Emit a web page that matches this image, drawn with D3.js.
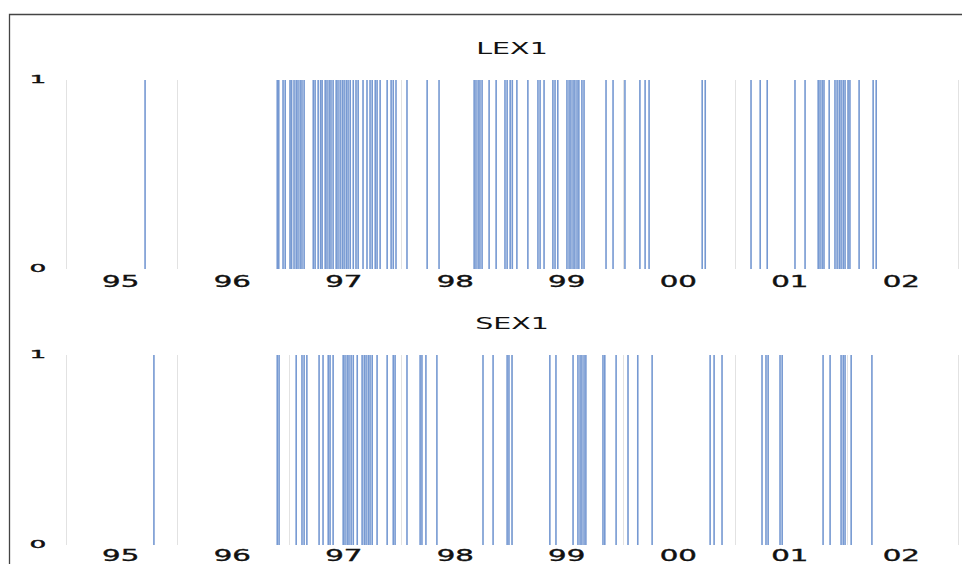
<!DOCTYPE html>
<html>
<head>
<meta charset="utf-8">
<script src="https://cdn.jsdelivr.net/npm/d3@7"></script>
<style>
  body { margin: 0; background: #fff; }
  text { font-family: "DejaVu Sans", sans-serif; fill: #111; }
  text.xtick, text.ytick { stroke: #111; stroke-width: 0.35px; }
</style>
</head>
<body>
<script>
//event dates, one bar per event (value 1)
var lexDates = [
  "1995-09-17",
  "1996-11-23", "1996-11-28", "1996-12-12", "1996-12-19",
  "1997-01-04", "1997-01-09", "1997-01-17", "1997-01-24", "1997-01-30", "1997-02-06",
  "1997-02-12", "1997-02-19", "1997-03-21", "1997-03-27", "1997-04-06", "1997-04-14",
  "1997-04-19", "1997-04-29", "1997-05-05", "1997-05-12", "1997-05-18", "1997-05-25",
  "1997-06-04", "1997-06-10", "1997-06-17", "1997-06-24", "1997-06-30", "1997-07-07",
  "1997-07-13", "1997-07-20", "1997-07-30", "1997-08-08", "1997-08-15", "1997-08-31",
  "1997-09-13", "1997-09-23", "1997-09-30", "1997-10-10", "1997-10-16", "1997-10-26",
  "1997-11-18", "1997-12-01", "1997-12-08", "1997-12-17",
  "1998-01-22", "1998-03-29", "1998-05-07", "1998-08-30", "1998-09-05", "1998-09-12",
  "1998-09-18", "1998-09-25", "1998-10-18", "1998-11-10", "1998-12-09", "1998-12-16",
  "1998-12-26",
  "1999-01-02", "1999-01-17", "1999-02-22", "1999-03-27", "1999-04-03", "1999-04-16",
  "1999-05-15", "1999-05-22", "1999-05-31", "1999-06-30", "1999-07-07", "1999-07-13",
  "1999-07-20", "1999-07-26", "1999-08-02", "1999-08-08", "1999-08-18", "1999-08-25",
  "1999-11-05", "1999-11-28",
  "2000-01-06", "2000-02-24", "2000-03-12", "2000-03-25", "2000-09-15", "2000-09-25",
  "2001-02-22", "2001-03-24", "2001-04-16", "2001-07-16", "2001-08-18", "2001-09-30",
  "2001-10-06", "2001-10-13", "2001-10-19", "2001-11-05", "2001-11-24", "2001-12-01",
  "2001-12-08", "2001-12-14", "2001-12-21", "2001-12-27",
  "2002-01-06", "2002-01-12", "2002-02-11", "2002-03-29", "2002-04-08"
];

var sexDates = [
  "1995-10-16",
  "1996-11-23", "1996-11-29",
  "1997-01-24", "1997-02-12", "1997-02-19", "1997-02-28", "1997-04-09", "1997-04-22",
  "1997-05-09", "1997-05-15", "1997-05-25", "1997-06-27", "1997-07-03", "1997-07-10",
  "1997-07-16", "1997-07-23", "1997-07-30", "1997-08-12", "1997-08-28", "1997-09-04",
  "1997-09-10", "1997-09-17", "1997-09-23", "1997-09-30", "1997-10-16", "1997-11-18",
  "1997-12-08", "1997-12-14",
  "1998-01-22", "1998-03-06", "1998-03-12", "1998-03-25", "1998-04-30", "1998-09-28",
  "1998-10-31", "1998-12-16", "1998-12-22",
  "1999-01-01", "1999-05-05", "1999-05-25", "1999-07-20", "1999-08-05", "1999-08-12",
  "1999-08-18", "1999-08-25", "1999-08-31", "1999-10-26", "1999-11-01", "1999-12-08",
  "2000-01-16", "2000-02-17", "2000-04-04", "2000-10-11", "2000-10-24", "2000-11-19",
  "2001-03-30", "2001-04-12", "2001-04-19", "2001-05-28", "2001-06-04", "2001-10-16",
  "2001-11-08", "2001-12-14", "2001-12-21", "2001-12-27",
  "2002-01-16", "2002-03-25"
];

var seriesNames = ["LEX1", "SEX1"];
var yTicks = [0, 1];
var yearStart = new Date(1995, 0, 1);
var yearEnd = new Date(2003, 0, 1);

var width = 962, height = 564;
var barColor = "#7699d2";
var gridColor = "#e2e2e2";

var parse = d3.timeParse("%Y-%m-%d");

var xScale = d3.scaleTime()
               .domain([yearStart, yearEnd])
               .range([66, 958]);

var years = d3.timeYear.range(yearStart, yearEnd);
var yearLabel = d3.timeFormat("%y");

var svg = d3.select("body")
            .append("svg")
            .attr("width", width)
            .attr("height", height);

//outer frame (top and left edges)
svg.append("path")
   .attr("d", "M 9.5 " + height + " L 9.5 14.5 L " + width + " 14.5")
   .attr("fill", "none")
   .attr("stroke", "#444")
   .attr("stroke-width", 1.3);

//panel settings: title position, plot top, plot bottom, label baseline
var panels = [
  {name: seriesNames[0], dates: lexDates, title: 54, top: 80, bottom: 269, label: 287},
  {name: seriesNames[1], dates: sexDates, title: 329, top: 355, bottom: 545, label: 561}
];

panels.forEach(function(p){
    var yScale = d3.scaleLinear().domain([0, 1]).range([p.bottom, p.top]);
    var g = svg.append("g");

    //title
    g.append("text")
     .attr("transform", "translate(512," + p.title + ") scale(1.9,1)")
     .attr("text-anchor", "middle")
     .style("font-size", "15px")
     .text(p.name);

    //year gridlines
    g.selectAll("line.grid")
     .data(years.concat([yearEnd]))
     .enter()
     .append("line")
     .attr("class", "grid")
     .attr("x1", function(d){ return Math.round(xScale(d)) + 0.5; })
     .attr("x2", function(d){ return Math.round(xScale(d)) + 0.5; })
     .attr("y1", yScale(1))
     .attr("y2", yScale(0))
     .attr("stroke", gridColor)
     .attr("stroke-width", 1);

    //event bars
    g.selectAll("rect.bar")
     .data(p.dates.map(parse))
     .enter()
     .append("rect")
     .attr("class", "bar")
     .attr("x", function(d){ return xScale(d) - 0.8; })
     .attr("width", 1.6)
     .attr("y", yScale(1))
     .attr("height", yScale(0) - yScale(1))
     .attr("fill", barColor);

    //y tick labels
    g.selectAll("text.ytick")
     .data(yTicks)
     .enter()
     .append("text")
     .attr("class", "ytick")
     .attr("transform", function(d){ return "translate(38," + (yScale(d) + 3) + ") scale(2.4,1)"; })
     .attr("text-anchor", "middle")
     .style("font-size", "11px")
     .text(function(d){ return d; });

    //year labels, centred in each year
    g.selectAll("text.xtick")
     .data(years)
     .enter()
     .append("text")
     .attr("class", "xtick")
     .attr("transform", function(d){
         var mid = (xScale(d) + xScale(d3.timeYear.offset(d, 1))) / 2 - 1;
         return "translate(" + mid + "," + p.label + ") scale(1.95,1)";
     })
     .attr("text-anchor", "middle")
     .style("font-size", "15px")
     .text(function(d){ return yearLabel(d); });
});
</script>
</body>
</html>
